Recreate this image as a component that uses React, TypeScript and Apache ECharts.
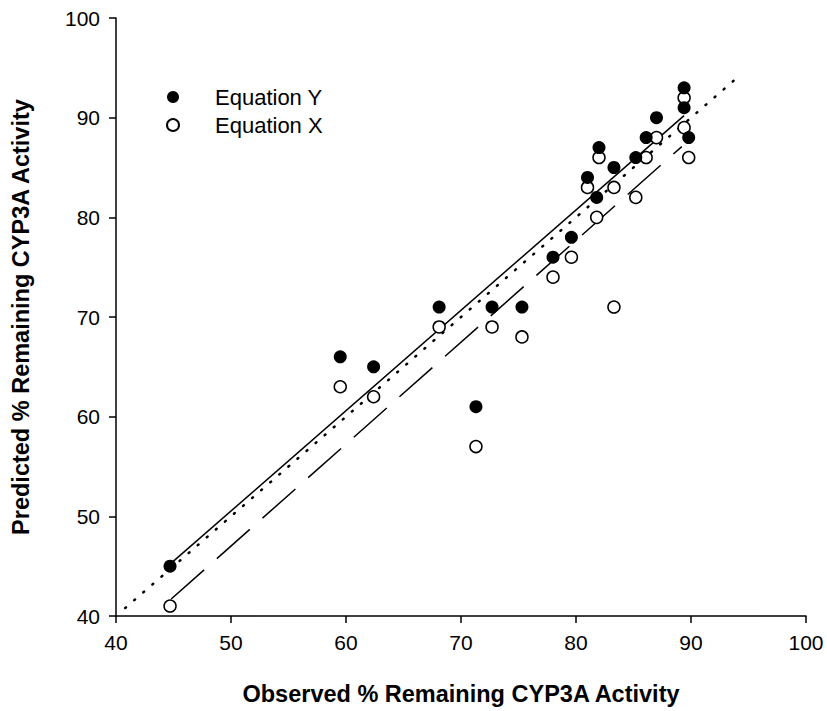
import React, { useEffect, useRef } from "react";
import * as echarts from "echarts";

const observed = [44.7, 59.5, 62.4, 68.1, 71.3, 72.7, 75.3, 78.0, 79.6, 81.0, 81.8, 82.0, 83.3, 83.3, 85.2, 86.1, 87.0, 89.4, 89.4, 89.8];
const predictedY = [45, 66, 65, 71, 61, 71, 71, 76, 78, 84, 82, 87, 85, null, 86, 88, 90, 93, 91, 88];
const predictedX = [41, 63, 62, 69, 57, 69, 68, 74, 76, 83, 80, 86, 83, 71, 82, 86, 88, 92, 89, 86];

const fitYLine = [[44.7, 45.2], [89.4, 90.2]];
const fitXLine = [[44.8, 41.7], [89.2, 87.1]];
const identityLine = [[40.8, 40.8], [94.4, 94.4]];

const xTicks = [40, 50, 60, 70, 80, 90, 100];
const yTicks = [40, 50, 60, 70, 80, 90, 100];

export default function App() {
  const ref = useRef<HTMLDivElement>(null);
  useEffect(() => {
    if (!ref.current) return;
    const chart = echarts.init(ref.current, null, { renderer: "svg" });
    const font = "'Liberation Sans', Arial, sans-serif";
    const yPts = observed.map((x, i) => [x, predictedY[i]]).filter((p) => p[1] !== null);
    const xPts = observed.map((x, i) => [x, predictedX[i]]);
    chart.setOption({
      animation: false,
      backgroundColor: "#fff",
      textStyle: { fontFamily: font },
      grid: { left: 116, right: 21, top: 18, bottom: 95, containLabel: false },
      legend: {
        left: 161,
        top: 81,
        orient: "vertical",
        itemWidth: 74,
        itemHeight: 12,
        itemGap: 6,
        data: ["Equation Y", "Equation X"],
        textStyle: { fontSize: 22, color: "#000", fontFamily: font },
        selectedMode: false,
      },
      xAxis: {
        type: "value",
        min: xTicks[0],
        max: xTicks[xTicks.length - 1],
        interval: 10,
        name: "Observed % Remaining CYP3A Activity",
        nameLocation: "middle",
        nameGap: 66,
        nameTextStyle: { fontSize: 23.5, fontWeight: "bold", color: "#000", fontFamily: font },
        axisLine: { lineStyle: { color: "#000", width: 1.5 } },
        axisTick: { inside: false, length: 7, lineStyle: { color: "#000", width: 1.5 } },
        axisLabel: { fontSize: 21, color: "#000", margin: 16, fontFamily: font },
        splitLine: { show: false },
      },
      yAxis: {
        type: "value",
        min: yTicks[0],
        max: yTicks[yTicks.length - 1],
        interval: 10,
        name: "Predicted % Remaining CYP3A Activity",
        nameLocation: "middle",
        nameGap: 83,
        nameTextStyle: { fontSize: 23.5, fontWeight: "bold", color: "#000", fontFamily: font },
        axisLine: { lineStyle: { color: "#000", width: 1.5 } },
        axisTick: { inside: false, length: 7, lineStyle: { color: "#000", width: 1.5 } },
        axisLabel: { fontSize: 21, color: "#000", margin: 16, fontFamily: font },
        splitLine: { show: false },
      },
      series: [
        {
          name: "identity",
          type: "line",
          data: identityLine,
          showSymbol: false,
          symbol: "none",
          lineStyle: { color: "#000", width: 2.5, type: [1, 11], cap: "round" },
          z: 1,
          silent: true,
        },
        {
          name: "fitY",
          type: "line",
          data: fitYLine,
          showSymbol: false,
          symbol: "none",
          lineStyle: { color: "#000", width: 1.5, type: "solid" },
          z: 1,
          silent: true,
        },
        {
          name: "fitX",
          type: "line",
          data: fitXLine,
          showSymbol: false,
          symbol: "none",
          lineStyle: { color: "#000", width: 1.5, type: [44, 17] },
          z: 1,
          silent: true,
        },
        {
          name: "Equation X",
          type: "scatter",
          data: xPts,
          symbol: "circle",
          symbolSize: 12,
          itemStyle: { color: "#fff", borderColor: "#000", borderWidth: 1.5, opacity: 1 },
          z: 3,
        },
        {
          name: "Equation Y",
          type: "scatter",
          data: yPts,
          symbol: "circle",
          symbolSize: 13,
          itemStyle: { color: "#000", borderColor: "#000", borderWidth: 0, opacity: 1 },
          z: 4,
        },
      ],
    });
    return () => chart.dispose();
  }, []);
  return <div ref={ref} style={{ position: "fixed", left: 0, top: 0, width: 827, height: 711 }} />;
}
